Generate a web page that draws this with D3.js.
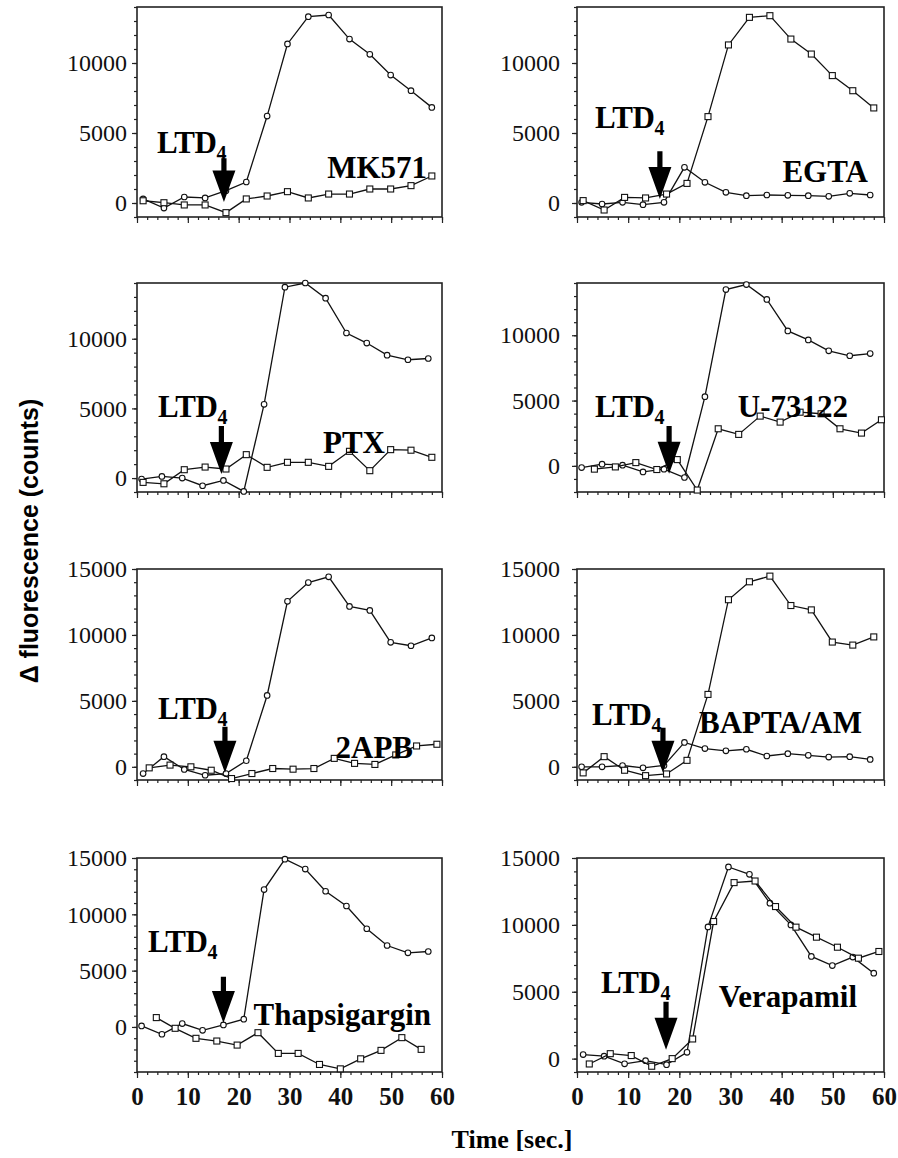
<!DOCTYPE html>
<html>
<head>
<meta charset="utf-8">
<script src="https://cdn.jsdelivr.net/npm/d3@7"></script>
<style>
  body { margin: 0; background: #fff; }
  svg { display: block; }
</style>
</head>
<body>
<script>
// sample times (sec.)
const timesA = [1.2, 5.3, 9.3, 13.4, 17.5, 21.5, 25.6, 29.6, 33.7, 37.7, 41.8, 45.8, 49.9, 53.9, 58.0];
const timesB = [0.9, 4.9, 8.9, 12.9, 17.0, 21.0, 25.0, 29.1, 33.1, 37.1, 41.2, 45.2, 49.2, 53.3, 57.3];
const timesC = [3.4, 7.5, 11.5, 15.6, 19.6, 23.5, 27.6, 31.6, 35.8, 39.7, 43.6, 47.7, 51.4, 55.6, 59.5];
const timesD = [3.8, 7.5, 11.6, 15.7, 19.7, 23.8, 27.8, 31.7, 35.9, 40.0, 44.0, 48.0, 52.1, 55.9];
const timesE = [2.4, 6.5, 10.6, 14.6, 18.6, 22.6, 26.7, 30.7, 34.8, 38.8, 42.8, 46.8, 50.9, 55.0, 59.0];

// delta fluorescence (counts), circle and square series per panel
const mk571Circle = [290, -360, 430, 360, 880, 1500, 6210, 11360, 13310, 13430, 11710, 10620, 9140, 8020, 6830];
const mk571Square = [160, 20, -140, -140, -690, 290, 500, 810, 360, 640, 640, 1000, 1000, 1240, 1930];
const egtaCircle = [50, -70, 50, -120, 50, 2550, 1480, 760, 520, 570, 550, 520, 480, 690, 570];
const egtaSquare = [170, -500, 400, 360, 640, 1400, 6170, 11290, 13260, 13380, 11710, 10640, 9100, 8020, 6790];
const ptxCircle = [-70, 120, 0, -550, -170, -960, 5290, 13700, 14000, 12910, 10410, 9690, 8820, 8490, 8580];
const ptxSquare = [-310, -410, 600, 790, 650, 1680, 770, 1130, 1130, 840, 1920, 530, 2040, 2000, 1490];
const u73Circle = [-130, 130, 50, -460, -250, -890, 5300, 13500, 13880, 12740, 10330, 9640, 8810, 8430, 8600];
const u73Square = [-250, -80, 250, -280, 480, -1850, 2840, 2410, 3810, 3350, 4110, 3990, 2840, 2510, 3530];
const apbCircle = [-510, 770, -200, -640, -510, 460, 5410, 12550, 13970, 14410, 12160, 11860, 9440, 9180, 9770];
const apbSquare = [-80, 130, 0, -260, -890, -510, -130, -180, -130, 640, 260, 180, 900, 1580, 1710];
const baptaCircle = [0, 0, 100, -80, 100, 1850, 1380, 1210, 1330, 820, 1000, 870, 740, 770, 560];
const baptaSquare = [-460, 770, -260, -670, -540, 490, 5490, 12670, 14030, 14460, 12230, 11900, 9460, 9230, 9850];
const thapCircle = [90, -650, 300, -300, 180, 690, 12200, 14900, 14020, 12050, 10740, 8720, 7230, 6580, 6700];
const thapSquare = [830, -120, -1010, -1250, -1610, -510, -2350, -2350, -3330, -3720, -2830, -2080, -950, -1990];
const veraCircle = [300, 180, -390, -150, -450, 470, 9850, 14330, 13780, 11620, 10000, 7640, 6960, 7590, 6390];
const veraSquare = [-400, 370, 230, -570, 0, 1470, 10250, 13160, 13280, 11370, 9830, 9080, 8330, 7510, 8010];

const drugNames = ['MK571', 'EGTA', 'PTX', 'U-73122', '2APB', 'BAPTA/AM', 'Thapsigargin', 'Verapamil'];
const yDomains = [[-1000, 14000], [-1000, 14000], [-1000, 14000], [-2000, 14000],
                  [-1000, 15000], [-1000, 15000], [-4000, 15000], [-1000, 15000]];
const xTicks = [0, 10, 20, 30, 40, 50, 60];
const yTicks = [0, 5000, 10000, 15000];

// LTD4 arrow: time, shaft top value, tip value
const arrowTimes = [17.1, 16.2, 16.6, 18.0, 17.3, 16.8, 17.0, 17.4];
const arrowTops = [3200, 3700, 3730, 3060, 3030, 2960, 4460, 4250];
const arrowTips = [70, 290, 290, -610, -455, -455, 360, 670];

const svgValues = {
    width: 898,
    height: 1158,
    cols: [[137, 442], [577, 884]],
    rows: [[7, 217], [283, 492], [569, 780], [858, 1072]]
};

// label offsets from the panel's top-left corner (px)
const labelLayout = [
    {ltd: [20, 146], drug: [290, 171]},
    {ltd: [18, 121], drug: [291, 175]},
    {ltd: [21, 134], drug: [248, 170]},
    {ltd: [18, 134], drug: [271, 134]},
    {ltd: [21, 150], drug: [276, 189]},
    {ltd: [15, 156], drug: [285, 164]},
    {ltd: [11, 94], drug: [294, 167]},
    {ltd: [24, 135], drug: [280, 149]}
];

const panelSeries = [
    [[timesA, mk571Circle, 'circle'], [timesA, mk571Square, 'square']],
    [[timesB, egtaCircle, 'circle'], [timesA, egtaSquare, 'square']],
    [[timesB, ptxCircle, 'circle'], [timesA, ptxSquare, 'square']],
    [[timesB, u73Circle, 'circle'], [timesC, u73Square, 'square']],
    [[timesA, apbCircle, 'circle'], [timesE, apbSquare, 'square']],
    [[timesB, baptaCircle, 'circle'], [timesA, baptaSquare, 'square']],
    [[timesB, thapCircle, 'circle'], [timesD, thapSquare, 'square']],
    [[timesA, veraCircle, 'circle'], [timesE, veraSquare, 'square']]
];

const serif = '"Liberation Serif", "Times New Roman", serif';

function makeSvg(){
    const svg = d3.select('body')
        .append('svg')
        .attr('width', svgValues.width)
        .attr('height', svgValues.height);

    svg.append('rect')
        .attr('width', svgValues.width)
        .attr('height', svgValues.height)
        .attr('fill', '#fff');

    svg // y title
        .append('text')
        .text('\u0394 fluorescence (counts)')
        .attr('transform', 'translate(38,541) rotate(-90)')
        .attr('text-anchor', 'middle')
        .style('font-family', '"Liberation Sans", Arial, sans-serif')
        .style('font-weight', 'bold')
        .style('font-size', '25px');

    svg // x title
        .append('text')
        .text('Time [sec.]')
        .attr('x', 512)
        .attr('y', 1148)
        .attr('text-anchor', 'middle')
        .style('font-family', serif)
        .style('font-weight', 'bold')
        .style('font-size', '26px');

    return svg;
}

function drawPanel(svg, i){
    const col = i % 2;
    const row = Math.floor(i / 2);
    const [x0, x1] = svgValues.cols[col];
    const [top, bottom] = svgValues.rows[row];
    const yDomain = yDomains[i];

    const xScale = d3.scaleLinear().domain([0, 60]).range([x0, x1]);
    const yScale = d3.scaleLinear().domain(yDomain).range([bottom, top]);

    const g = svg.append('g').attr('class', 'panel');

    // minor y ticks every 1000
    g.append('g')
        .attr('transform', 'translate(' + x0 + ',0)')
        .call(d3.axisLeft(yScale)
            .tickValues(d3.range(Math.ceil(yDomain[0] / 1000) * 1000, yDomain[1] + 1, 1000))
            .tickSize(3).tickSizeOuter(0).tickFormat(''))
        .call(a => a.select('.domain').remove());

    g.append('g')
        .attr('transform', 'translate(' + x0 + ',0)')
        .call(d3.axisLeft(yScale)
            .tickValues(yTicks.filter(v => v <= yDomain[1]))
            .tickSize(5).tickSizeOuter(0)
            .tickPadding(col ? 12 : 5)
            .tickFormat(d3.format('d')))
        .call(a => a.select('.domain').remove())
        .selectAll('text')
        .style('font-family', serif)
        .style('font-size', '24px')
        .attr('fill', '#111');

    // x ticks
    g.append('g')
        .attr('transform', 'translate(0,' + bottom + ')')
        .call(d3.axisBottom(xScale).tickValues(d3.range(0, 61, 2)).tickSize(3).tickSizeOuter(0).tickFormat(''))
        .call(a => a.select('.domain').remove());

    const xAxis = g.append('g')
        .attr('transform', 'translate(0,' + bottom + ')')
        .call(d3.axisBottom(xScale).tickValues(xTicks).tickSize(6).tickSizeOuter(0)
            .tickPadding(9)
            .tickFormat(row === 3 ? d3.format('d') : ''))
        .call(a => a.select('.domain').remove());
    xAxis.selectAll('text')
        .style('font-family', serif)
        .style('font-weight', 'bold')
        .style('font-size', '25px')
        .attr('fill', '#111');

    g.selectAll('.tick line').attr('stroke', '#222').attr('stroke-width', 1.2);

    g.append('rect') // frame
        .attr('x', x0)
        .attr('y', top)
        .attr('width', x1 - x0)
        .attr('height', bottom - top)
        .attr('fill', 'none')
        .attr('stroke', '#222')
        .attr('stroke-width', 1.6);

    const line = d3.line()
        .x(d => xScale(d[0]))
        .y(d => yScale(d[1]));

    panelSeries[i].forEach(function(s){
        const pts = s[1].map((v, k) => [s[0][k], v]);
        g.append('path')
            .datum(pts)
            .attr('d', line)
            .attr('fill', 'none')
            .attr('stroke', '#111')
            .attr('stroke-width', 1.3);

        if (s[2] === 'circle'){
            g.selectAll(null)
                .data(pts)
                .enter()
                .append('circle')
                .attr('cx', d => xScale(d[0]))
                .attr('cy', d => yScale(d[1]))
                .attr('r', 2.8)
                .attr('fill', '#fff')
                .attr('stroke', '#111')
                .attr('stroke-width', 1.1);
        } else {
            g.selectAll(null)
                .data(pts)
                .enter()
                .append('rect')
                .attr('x', d => xScale(d[0]) - 3)
                .attr('y', d => yScale(d[1]) - 3)
                .attr('width', 6)
                .attr('height', 6)
                .attr('fill', '#fff')
                .attr('stroke', '#111')
                .attr('stroke-width', 1.1);
        }
    });

    // LTD4 arrow
    const ax = xScale(arrowTimes[i]);
    const aTop = yScale(arrowTops[i]);
    const aTip = yScale(arrowTips[i]);
    const headH = Math.min(32, (aTip - aTop) * 0.72);
    const headY = aTip - headH;
    const sw = 2.6, hw = 11.5;
    g.append('path')
        .attr('d', 'M' + (ax - sw) + ',' + aTop + 'L' + (ax + sw) + ',' + aTop +
            'L' + (ax + sw) + ',' + headY + 'L' + (ax + hw) + ',' + headY +
            'L' + ax + ',' + aTip + 'L' + (ax - hw) + ',' + headY +
            'L' + (ax - sw) + ',' + headY + 'Z')
        .attr('fill', '#000');

    const lay = labelLayout[i];
    const ltd = g.append('text')
        .attr('x', x0 + lay.ltd[0])
        .attr('y', top + lay.ltd[1])
        .style('font-family', serif)
        .style('font-weight', 'bold')
        .style('font-size', '31px')
        .style('letter-spacing', '-0.5px');
    ltd.append('tspan').text('LTD');
    ltd.append('tspan').text('4')
        .attr('dy', 7)
        .style('font-size', '20px');

    g.append('text')
        .text(drugNames[i])
        .attr('x', x0 + lay.drug[0])
        .attr('y', top + lay.drug[1])
        .attr('text-anchor', 'end')
        .style('font-family', serif)
        .style('font-weight', 'bold')
        .style('font-size', '31px');
}

const svg = makeSvg();
drugNames.forEach((d, i) => drawPanel(svg, i));
</script>
</body>
</html>
